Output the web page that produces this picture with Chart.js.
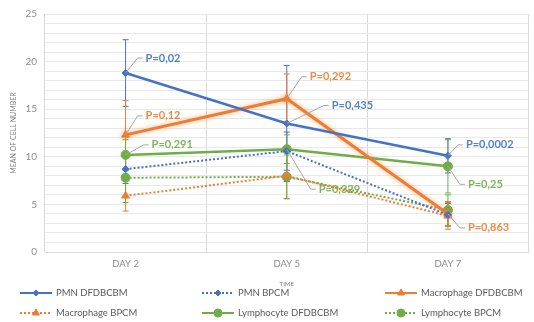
<!DOCTYPE html>
<html>
<head>
<meta charset="utf-8">
<script src="https://cdn.jsdelivr.net/npm/chart.js@4"></script>
<style>
  html, body { margin: 0; padding: 0; background: #fff; }
  #wrap { width: 534px; height: 322px; }
</style>
</head>
<body>
<div id="wrap"><canvas id="cellChart" width="534" height="322"></canvas></div>
<script>
/* ---------- data ---------- */
const categories = ["DAY 2", "DAY 5", "DAY 7"];
const pmnDfdbcbm = [18.8, 13.5, 10.1];
const pmnBpcm = [8.7, 10.6, 3.9];
const macDfdbcbm = [12.3, 16.1, 4.0];
const macBpcm = [5.9, 8.0, 3.8];
const lymDfdbcbm = [10.2, 10.8, 9.0];
const lymBpcm = [7.8, 7.9, 4.4];
/* error bar half widths */
const pmnDfdbcbmErr = [3.5, 6.1, 1.8];
const pmnBpcmErr = [1.5, 2.0, 1.2];
const macDfdbcbmErr = [3.6, 2.6, 1.3];
const macBpcmErr = [1.6, 2.4, 1.4];
const lymDfdbcbmErr = [1.6, 1.5, 2.8];
const lymBpcmErr = [2.6, 2.3, 1.6];
/* p values */
const pmnP = ["P=0,02", "P=0,435", "P=0,0002"];
const macP = ["P=0,12", "P=0,292", "P=0,863"];
const lymP = ["P=0,291", "P=0,329", "P=0,25"];

const BLUE = "#4472C4", ORANGE = "#ED7D31", GREEN = "#70AD47";

function series(label, data, err, color, style, dotted, pvals, glow) {
  return {
    label: label,
    data: data,
    err: err,
    pvals: pvals,
    glow: glow,
    borderColor: color,
    backgroundColor: color,
    pointBackgroundColor: color,
    pointBorderColor: color,
    borderWidth: dotted ? 2 : (glow ? 3 : 2.5),
    borderDash: dotted ? [2, 2] : [],
    pointStyle: style,
    pointRadius: style === "circle" ? 4.5 : (style === "triangle" ? 4.5 : 3.5),
    pointBorderWidth: 1,
    tension: 0,
    fill: false,
  };
}

const datasets = [
  series("PMN DFDBCBM", pmnDfdbcbm, pmnDfdbcbmErr, BLUE, "rectRot", false, pmnP),
  series("PMN BPCM", pmnBpcm, pmnBpcmErr, BLUE, "rectRot", true),
  series("Macrophage DFDBCBM", macDfdbcbm, macDfdbcbmErr, ORANGE, "triangle", false, macP, true),
  series("Macrophage BPCM", macBpcm, macBpcmErr, ORANGE, "triangle", true),
  series("Lymphocyte DFDBCBM", lymDfdbcbm, lymDfdbcbmErr, GREEN, "circle", false, lymP),
  series("Lymphocyte BPCM", lymBpcm, lymBpcmErr, GREEN, "circle", true),
];

/* label placement: [dx, dy] of text start from the point */
const pOffsets = {
  0: [[20, -15], [45, -18], [18, -11]],
  2: [[20, -19], [23, -22], [20, 14]],
  4: [[26, -10], [32, 40], [20, 18]],
};

/* ---------- error bars + glow ---------- */
const errorBars = {
  id: "errorBars",
  beforeDatasetsDraw(chart) {
    const ctx = chart.ctx, y = chart.scales.y;
    chart.data.datasets.forEach((ds, i) => {
      const meta = chart.getDatasetMeta(i);
      ctx.save();
      ctx.strokeStyle = ds.borderColor;
      ctx.lineWidth = 1;
      meta.data.forEach((pt, j) => {
        const top = y.getPixelForValue(ds.data[j] + ds.err[j]);
        const bot = y.getPixelForValue(ds.data[j] - ds.err[j]);
        ctx.beginPath();
        ctx.moveTo(pt.x, top); ctx.lineTo(pt.x, bot);
        ctx.moveTo(pt.x - 3, top); ctx.lineTo(pt.x + 3, top);
        ctx.moveTo(pt.x - 3, bot); ctx.lineTo(pt.x + 3, bot);
        ctx.stroke();
      });
      ctx.restore();
    });
  },
  beforeDatasetDraw(chart, args) {
    if (args.meta._dataset && args.meta._dataset.glow) {
      chart.ctx.save();
      chart.ctx.shadowColor = "rgba(237,125,49,0.6)";
      chart.ctx.shadowBlur = 5;
    }
  },
  afterDatasetDraw(chart, args) {
    if (args.meta._dataset && args.meta._dataset.glow) chart.ctx.restore();
  },
};

/* ---------- p value callouts ---------- */
const pLabels = {
  id: "pLabels",
  afterDatasetsDraw(chart) {
    const ctx = chart.ctx;
    ctx.save();
    ctx.font = "bold 11px Lato, 'Open Sans', sans-serif";
    ctx.textBaseline = "middle";
    chart.data.datasets.forEach((ds, i) => {
      if (!ds.pvals) return;
      const meta = chart.getDatasetMeta(i);
      meta.data.forEach((pt, j) => {
        const [dx, dy] = pOffsets[i][j];
        const tx = pt.x + dx, ty = pt.y + dy;
        ctx.strokeStyle = "#a6a6a6";
        ctx.lineWidth = 1;
        ctx.beginPath();
        ctx.moveTo(pt.x, pt.y);
        ctx.lineTo(tx - 8, ty);
        ctx.lineTo(tx - 3, ty);
        ctx.stroke();
        ctx.fillStyle = ds.borderColor;
        ctx.globalAlpha = 0.9;
        ctx.fillText(ds.pvals[j], tx, ty);
        ctx.globalAlpha = 1;
      });
    });
    ctx.restore();
  },
};

/* ---------- legend in a fixed grid ---------- */
const gridLegend = {
  id: "gridLegend",
  afterDraw(chart) {
    const ctx = chart.ctx;
    const cols = [20, 202, 385], rows = [293, 313];
    ctx.save();
    ctx.font = "9.5px Lato, 'Open Sans', sans-serif";
    ctx.textBaseline = "middle";
    chart.data.datasets.forEach((ds, i) => {
      const x = cols[i % 3], y = rows[Math.floor(i / 3)];
      const len = 32;
      ctx.strokeStyle = ds.borderColor;
      ctx.fillStyle = ds.borderColor;
      ctx.lineWidth = 2;
      ctx.setLineDash(ds.borderDash);
      ctx.beginPath(); ctx.moveTo(x, y); ctx.lineTo(x + len, y); ctx.stroke();
      ctx.setLineDash([]);
      ctx.lineWidth = 1;
      Chart.helpers.drawPoint(ctx, {
        pointStyle: ds.pointStyle, radius: ds.pointRadius - 0.5, borderWidth: 1,
      }, x + len / 2, y);
      ctx.fillStyle = "#595959";
      ctx.fillText(ds.label, x + len + 4, y);
    });
    ctx.restore();
  },
};

new Chart(document.getElementById("cellChart"), {
  type: "line",
  data: { labels: categories, datasets: datasets },
  plugins: [errorBars, pLabels, gridLegend],
  options: {
    responsive: false,
    animation: false,
    layout: { padding: { top: 12, right: 0, bottom: 34, left: 0 } },
    plugins: {
      legend: { display: false },
      tooltip: { enabled: false },
    },
    scales: {
      x: {
        offset: true,
        grid: { offset: true, color: "#d9d9d9", drawTicks: false },
        border: { color: "#d9d9d9" },
        ticks: {
          color: "#8c8c8c", padding: 6,
          font: { family: "Lato, 'Open Sans', sans-serif", size: 9.5 },
        },
        title: {
          display: true, text: "TIME", color: "#7f7f7f", padding: { top: 2, bottom: 0 },
          font: { family: "Lato, sans-serif", size: 6 },
        },
        afterFit: (s) => { s.height = 36; },
      },
      y: {
        min: 0, max: 25,
        grid: { color: "#e8e8e8", drawTicks: false },
        border: { display: false },
        ticks: {
          stepSize: 1, autoSkip: false, padding: 8, color: "#8c8c8c",
          font: { family: "Lato, 'Open Sans', sans-serif", size: 10 },
          callback: (v) => (v % 5 === 0 ? v : ""),
        },
        title: {
          display: true, text: "MEAN OF CELL NUMBER", color: "#7f7f7f",
          padding: { top: 10, bottom: 0 },
          font: { family: "Lato, sans-serif", size: 7 },
        },
        afterFit: (s) => { s.width = 45; },
      },
    },
  },
});
</script>
</body>
</html>
